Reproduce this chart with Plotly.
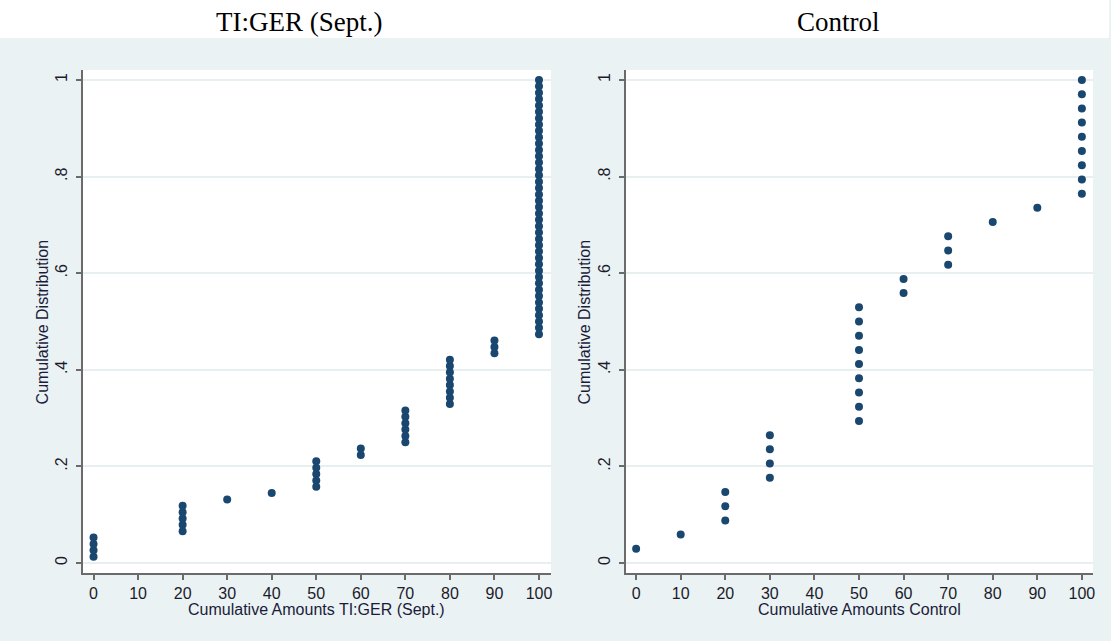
import plotly.graph_objects as go

# Cumulative distributions of allocated amounts (counts of observations per amount)
amounts_tiger = [0, 20, 30, 40, 50, 60, 70, 80, 90, 100]
counts_tiger = [4, 5, 1, 1, 5, 2, 6, 8, 3, 41]

amounts_control = [0, 10, 20, 30, 50, 60, 70, 80, 90, 100]
counts_control = [1, 1, 3, 4, 9, 2, 3, 1, 1, 9]

x_ticks = [0, 10, 20, 30, 40, 50, 60, 70, 80, 90, 100]
y_ticks = [0, 0.2, 0.4, 0.6, 0.8, 1.0]
y_tick_text = ["0", ".2", ".4", ".6", ".8", "1"]

panel_titles = ["TI:GER (Sept.)", "Control"]
x_titles = ["Cumulative Amounts TI:GER (Sept.)", "Cumulative Amounts Control"]
y_title = "Cumulative Distribution"


def ecdf_points(amounts, counts):
    """Expand per-amount counts into (amount, cumulative share) points."""
    n = sum(counts)
    xs, ys = [], []
    rank = 0
    for a, c in zip(amounts, counts):
        for _ in range(c):
            rank += 1
            xs.append(a)
            ys.append(rank / n)
    return xs, ys


W, H = 1111, 641
BG = "#EAF2F3"
NAVY = "#1a476f"
AXIS = "#6b6b6b"
SANS = "Liberation Sans, Arial, sans-serif"
SERIF = "Liberation Serif, Times New Roman, serif"

fig = go.Figure()

x1, y1 = ecdf_points(amounts_tiger, counts_tiger)
x2, y2 = ecdf_points(amounts_control, counts_control)

for xs, ys, xa, ya in [(x1, y1, "x", "y"), (x2, y2, "x2", "y2")]:
    fig.add_trace(go.Scatter(
        x=xs, y=ys, mode="markers", xaxis=xa, yaxis=ya,
        marker=dict(color=NAVY, size=8, line=dict(width=0)),
        showlegend=False, hoverinfo="x+y",
    ))

# pixel geometry of the two plot regions
left_px = [(83, 552), (627, 1095)]
top_px, bottom_px = 70, 573
y_dom = [(H - bottom_px) / H, (H - top_px) / H]
x_ranges = [[-2.4, 102.7], [-2.3, 102.5]]

axis_common = dict(
    showline=True, linecolor=AXIS, linewidth=2, mirror=False,
    ticks="outside", ticklen=5, tickwidth=2, tickcolor=AXIS,
    zeroline=False, tickfont=dict(family=SANS, size=16, color="#1b1b2b"),
)

layout_axes = {}
for i, (l, r) in enumerate(left_px):
    sfx = "" if i == 0 else "2"
    layout_axes["xaxis" + sfx] = dict(
        domain=[l / W, r / W], range=x_ranges[i],
        tickvals=x_ticks, showgrid=False,
        anchor="y" + sfx, **axis_common,
    )
    layout_axes["yaxis" + sfx] = dict(
        domain=y_dom, range=[-0.0207, 1.0207],
        tickvals=y_ticks, ticktext=y_tick_text, tickangle=-90,
        ticklabelstandoff=2,
        showgrid=True, gridcolor="#e8eff1", gridwidth=1.5,
        anchor="x" + sfx, **axis_common,
    )

annotations = []
title_cx = [300, 840]
y_title_x = [43, 586]
for i, (l, r) in enumerate(left_px):
    cx = (l + r) / 2
    annotations.append(dict(
        text=panel_titles[i], x=title_cx[i] / W, y=(H - 22) / H,
        xref="paper", yref="paper", showarrow=False,
        xanchor="center", yanchor="middle",
        font=dict(family=SERIF, size=27, color="#000000"),
    ))
    annotations.append(dict(
        text=x_titles[i], x=cx / W, y=(H - 609) / H,
        xref="paper", yref="paper", showarrow=False,
        xanchor="center", yanchor="middle",
        font=dict(family=SANS, size=16, color="#1b1b3a"),
    ))
    annotations.append(dict(
        text=y_title, x=y_title_x[i] / W, y=(H - (top_px + bottom_px) / 2) / H,
        xref="paper", yref="paper", showarrow=False, textangle=-90,
        xanchor="center", yanchor="middle",
        font=dict(family=SANS, size=16, color="#1b1b3a"),
    ))

# white strip behind the panel titles
shapes = [dict(
    type="rect", xref="paper", yref="paper",
    x0=0, x1=1, y0=(H - 38) / H, y1=1,
    fillcolor="white", line=dict(width=0), layer="below",
)]

fig.update_layout(
    width=W, height=H,
    margin=dict(l=0, r=0, t=0, b=0),
    paper_bgcolor=BG, plot_bgcolor="white",
    annotations=annotations, shapes=shapes,
    **layout_axes,
)

fig.write_html("out.html")
